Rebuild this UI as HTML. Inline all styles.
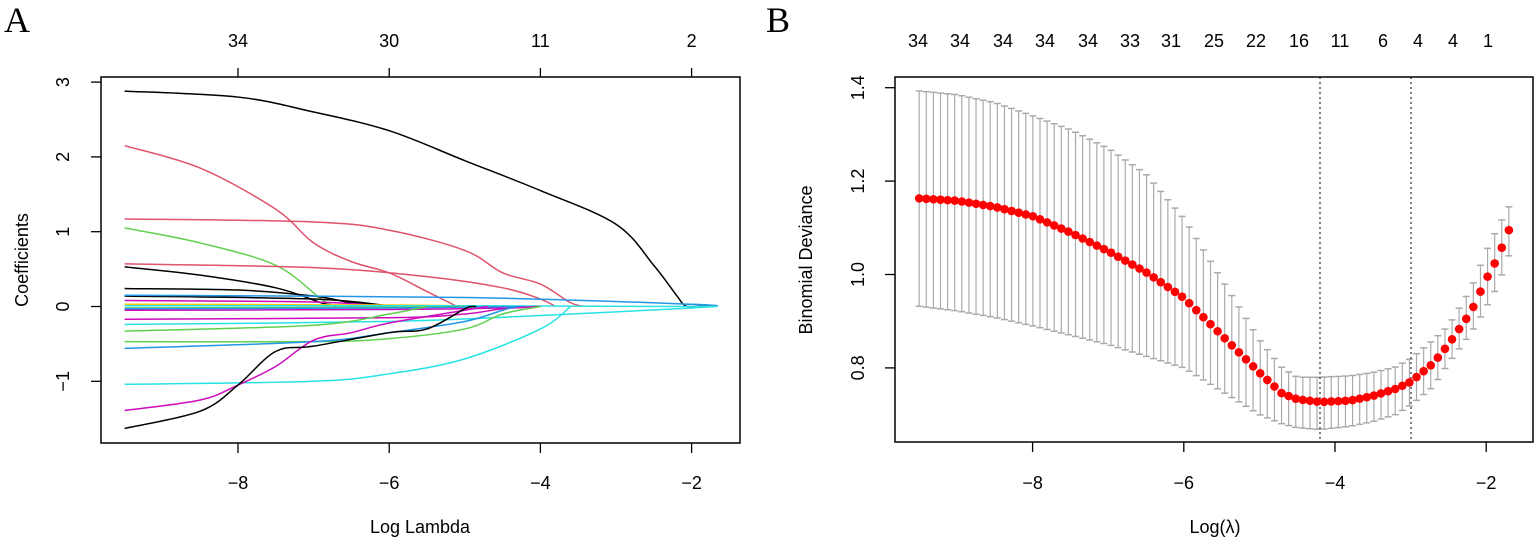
<!DOCTYPE html>
<html><head><meta charset="utf-8"><style>
html,body{margin:0;padding:0;background:#fff;}
svg text{font-family:"Liberation Sans",sans-serif;fill:#000;}
</style></head><body>
<svg id="s" width="1535" height="547" viewBox="0 0 1535 547" xmlns="http://www.w3.org/2000/svg">
<text x="4" y="32" style="font-family:'Liberation Serif',serif;font-size:36px">A</text>
<text x="766" y="32" style="font-family:'Liberation Serif',serif;font-size:36px">B</text>
<rect x="101" y="77" width="639" height="366" fill="none" stroke="#000" stroke-width="1.5"/>
<rect x="895" y="77" width="638" height="365" fill="none" stroke="#000" stroke-width="1.5"/>
<g id="g"></g>
</svg>
<script>
var NS="http://www.w3.org/2000/svg",g=document.getElementById('g');
function el(t,a,txt){var e=document.createElementNS(NS,t);for(var k in a)e.setAttribute(k,a[k]);if(txt!==undefined)e.textContent=txt;g.appendChild(e);return e;}
function ax(v){return 238+(v+8)*75.6;} function ay(c){return 306.5-c*74.8;}
[-8,-6,-4,-2].forEach(function(v){var x=ax(v);el('line',{x1:x,y1:443,x2:x,y2:453,stroke:'#000','stroke-width':1.3});el('text',{x:x,y:489,'font-size':18,'text-anchor':'middle'},'\u2212'+(-v));});
[[-8,'34'],[-6,'30'],[-4,'11'],[-2,'2']].forEach(function(p){var x=ax(p[0]);el('line',{x1:x,y1:77,x2:x,y2:68,stroke:'#000','stroke-width':1.3});el('text',{x:x,y:47,'font-size':18,'text-anchor':'middle'},p[1]);});
[3,2,1,0,-1].forEach(function(c){var y=ay(c);el('line',{x1:101,y1:y,x2:91,y2:y,stroke:'#000','stroke-width':1.3});el('text',{x:0,y:0,'font-size':18,'text-anchor':'middle',transform:'translate(69,'+y+') rotate(-90)'},c<0?'\u22121':String(c));});
el('text',{x:0,y:0,'font-size':18,'text-anchor':'middle',transform:'translate(28,260) rotate(-90)'},'Coefficients');
el('text',{x:420,y:533,'font-size':18,'text-anchor':'middle'},'Log Lambda');
function path(pts,fx,fy){var p=pts.map(function(q){return [fx(q[0]),fy(q[1])];});var d='M'+p[0][0]+','+p[0][1];
for(var i=0;i<p.length-1;i++){var p0=p[i-1]||p[i],p1=p[i],p2=p[i+1],p3=p[i+2]||p2;
d+=' C'+(p1[0]+(p2[0]-p0[0])/6)+','+(p1[1]+(p2[1]-p0[1])/6)+' '+(p2[0]-(p3[0]-p1[0])/6)+','+(p2[1]-(p3[1]-p1[1])/6)+' '+p2[0]+','+p2[1];}return d;}
var L=[
['#000',[[-9.5,2.88],[-8,2.8],[-7,2.6],[-6,2.35],[-5,1.95],[-4,1.55],[-3,1.1],[-2.5,0.55],[-2.2,0.15],[-2.08,0.01],[-1.9,0.003],[-1.7,0]]],
['#df536b',[[-9.5,2.15],[-8.5,1.85],[-7.5,1.3],[-7,0.85],[-6.5,0.6],[-6,0.45],[-5.5,0.2],[-5.1,0]]],
['#df536b',[[-9.5,1.17],[-7,1.13],[-6,1.02],[-5,0.75],[-4.5,0.45],[-4,0.3],[-3.6,0.05],[-3.4,0]]],
['#61d04f',[[-9.5,1.05],[-8.5,0.85],[-7.5,0.55],[-6.9,0.1],[-6.7,0]]],
['#df536b',[[-9.5,0.57],[-7,0.52],[-5.5,0.4],[-4.5,0.25],[-4,0.1],[-3.8,0]]],
['#000',[[-9.5,0.53],[-8.5,0.42],[-7.5,0.25],[-6.9,0.05],[-6.7,0]]],
['#000',[[-9.5,0.24],[-8,0.22],[-7,0.14],[-6.5,0.05],[-6,0]]],
['#000',[[-9.5,0.14],[-7,0.1],[-6,0.01],[-5.8,0]]],
['#2297e6',[[-9.5,0.15],[-5,0.12],[-2,0.03],[-1.7,0]]],
['#cd0bbc',[[-9.5,0.08],[-7,0.06],[-6,0],[-5.8,0]]],
['#f5c710',[[-9.5,0.03],[-6,0.02],[-4.5,0],[-4,0]]],
['#28e2e5',[[-9.5,0.01],[-5,0.01],[-2,0],[-1.7,0]]],
['#61d04f',[[-9.5,-0.02],[-6,-0.01],[-5,0]]],
['#cd0bbc',[[-9.5,-0.05],[-6,-0.04],[-4.5,-0.02],[-4,0]]],
['#2297e6',[[-9.5,-0.03],[-6,-0.02],[-4.2,0]]],
['#cd0bbc',[[-9.5,-0.17],[-6,-0.15],[-5,-0.1],[-4.5,-0.03],[-4,0]]],
['#28e2e5',[[-9.5,-0.24],[-6,-0.2],[-4,-0.12],[-2,-0.02],[-1.7,0]]],
['#61d04f',[[-9.5,-0.33],[-7,-0.25],[-6,-0.1],[-5.5,0]]],
['#61d04f',[[-9.5,-0.47],[-7,-0.47],[-6,-0.43],[-5,-0.3],[-4.5,-0.1],[-4,0]]],
['#2297e6',[[-9.5,-0.56],[-7,-0.47],[-6,-0.35],[-5,-0.2],[-4.5,-0.05],[-4.3,0]]],
['#28e2e5',[[-9.5,-1.04],[-7,-1.0],[-6,-0.9],[-5,-0.7],[-4,-0.3],[-3.6,0]]],
['#cd0bbc',[[-9.5,-1.39],[-8.5,-1.25],[-8,-1.05],[-7.5,-0.8],[-7,-0.45],[-6.5,-0.35],[-6,-0.22],[-5,-0.05],[-4.7,0]]],
['#000',[[-9.5,-1.63],[-8.5,-1.4],[-8,-1.05],[-7.5,-0.6],[-7,-0.53],[-6,-0.35],[-5.5,-0.3],[-5,-0.03],[-4.9,0],[-4.85,0]]]
];
L.forEach(function(l){el('path',{d:path(l[1],ax,ay),fill:'none',stroke:l[0],'stroke-width':1.5});});
function bx(v){return 1335+(v+4)*75.6;} function by(d){return 274.5-(d-1.0)*467;}
[-8,-6,-4,-2].forEach(function(v){var x=bx(v);el('line',{x1:x,y1:442,x2:x,y2:452,stroke:'#000','stroke-width':1.3});el('text',{x:x,y:489,'font-size':18,'text-anchor':'middle'},'\u2212'+(-v));});
[[1.4,'1.4'],[1.2,'1.2'],[1.0,'1.0'],[0.8,'0.8']].forEach(function(p){var y=by(p[0]);el('line',{x1:895,y1:y,x2:885,y2:y,stroke:'#000','stroke-width':1.3});el('text',{x:0,y:0,'font-size':18,'text-anchor':'middle',transform:'translate(864,'+y+') rotate(-90)'},p[1]);});
el('text',{x:0,y:0,'font-size':18,'text-anchor':'middle',transform:'translate(812,260) rotate(-90)'},'Binomial Deviance');
el('text',{x:1215,y:533,'font-size':18,'text-anchor':'middle'},'Log(\u03bb)');
var TL=[[918,'34'],[960,'34'],[1003,'34'],[1045,'34'],[1088,'34'],[1130,'33'],[1171,'31'],[1214,'25'],[1256,'22'],[1299,'16'],[1340,'11'],[1383,'6'],[1418,'4'],[1453,'4'],[1488,'1']];
TL.forEach(function(t){el('text',{x:t[0],y:47,'font-size':18,'text-anchor':'middle'},t[1]);});
function interp(P,v){for(var i=0;i<P.length-1;i++){if(v<=P[i+1][0]){var t=(v-P[i][0])/(P[i+1][0]-P[i][0]);return P[i][1]+t*(P[i+1][1]-P[i][1]);}}return P[P.length-1][1];}
var M=[[-9.5,1.163],[-9,1.158],[-8.5,1.145],[-8,1.125],[-7.5,1.09],[-7,1.05],[-6.5,1.005],[-6,0.95],[-5.5,0.87],[-5,0.79],[-4.7,0.745],[-4.5,0.733],[-4.2,0.727],[-3.8,0.73],[-3.5,0.74],[-3.2,0.755],[-3,0.77],[-2.7,0.81],[-2.5,0.85],[-2.2,0.92],[-2,0.99],[-1.85,1.035],[-1.7,1.095]];
var U=[[-9.5,1.393],[-9,1.385],[-8.5,1.368],[-8,1.34],[-7.5,1.31],[-7,1.27],[-6.5,1.215],[-6,1.12],[-5.5,0.99],[-5,0.86],[-4.7,0.8],[-4.5,0.78],[-4.2,0.78],[-3.8,0.783],[-3.5,0.79],[-3.2,0.802],[-3,0.82],[-2.7,0.86],[-2.5,0.89],[-2.2,0.97],[-2,1.05],[-1.85,1.1],[-1.7,1.145]];
var D=[[-9.5,0.932],[-9,0.922],[-8.5,0.908],[-8,0.89],[-7.5,0.87],[-7,0.85],[-6.5,0.825],[-6,0.8],[-5.5,0.75],[-5,0.7],[-4.7,0.68],[-4.5,0.672],[-4.2,0.668],[-3.8,0.675],[-3.5,0.685],[-3.2,0.7],[-3,0.72],[-2.7,0.76],[-2.5,0.81],[-2.2,0.875],[-2,0.93],[-1.85,0.975],[-1.7,1.04]];
var N=84;
for(var i=0;i<N;i++){var v=-9.5+i*(7.8/(N-1));var x=bx(v),yu=by(interp(U,v)),yd=by(interp(D,v));
el('line',{x1:x,y1:yu,x2:x,y2:yd,stroke:'#aaa','stroke-width':1.2});
el('line',{x1:x-3.5,y1:yu,x2:x+3.5,y2:yu,stroke:'#aaa','stroke-width':1.5});
el('line',{x1:x-3.5,y1:yd,x2:x+3.5,y2:yd,stroke:'#aaa','stroke-width':1.5});}
el('line',{x1:1320,y1:77,x2:1320,y2:442,stroke:'#000','stroke-width':1,'stroke-dasharray':'2,3'});
el('line',{x1:1411,y1:77,x2:1411,y2:442,stroke:'#000','stroke-width':1,'stroke-dasharray':'2,3'});
for(var i=0;i<N;i++){var v=-9.5+i*(7.8/(N-1));el('circle',{cx:bx(v),cy:by(interp(M,v)),r:4.3,fill:'#f00'});}
</script>
</body></html>
